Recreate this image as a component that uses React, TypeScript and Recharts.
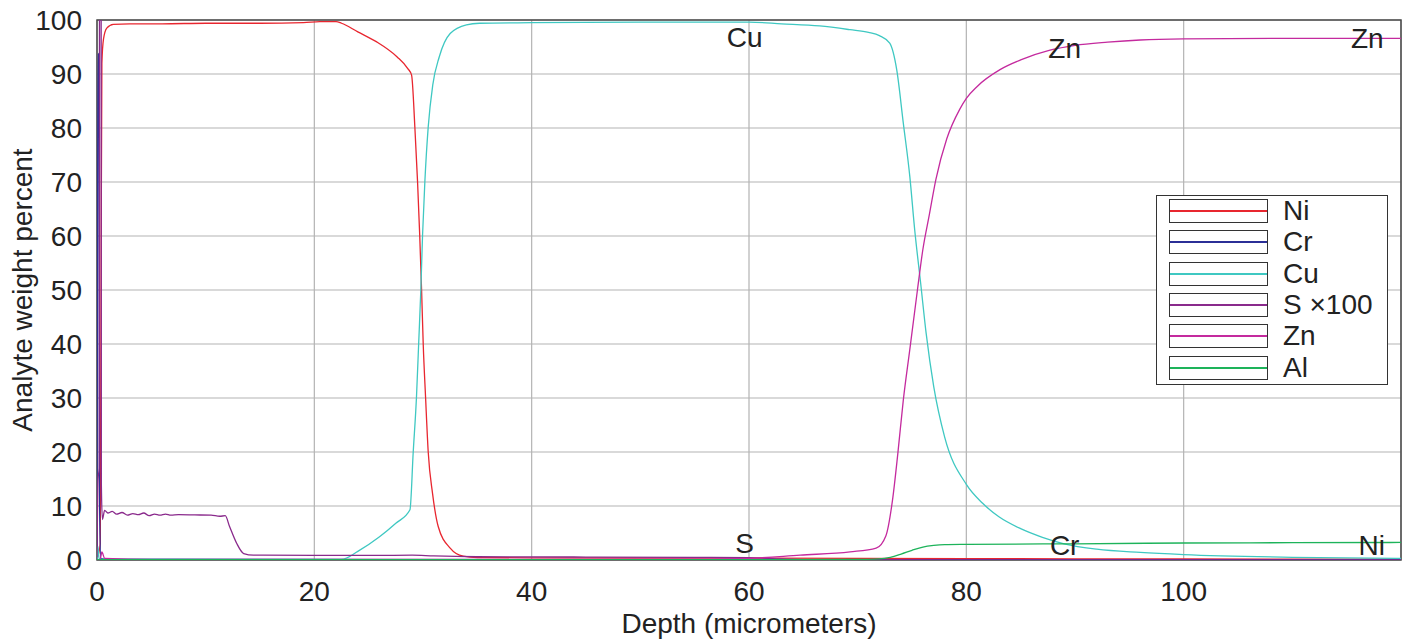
import {
  LineChart,
  Line,
  XAxis,
  YAxis,
  CartesianGrid,
  Legend,
  ReferenceArea,
  ReferenceDot,
} from "recharts";

// depth (micrometers) / weight percent
const niDepth = [0, 0.3, 0.38, 0.45, 0.6, 0.9, 1.5, 3, 6, 10, 15, 19, 20.5, 22, 22.5, 24, 25.7, 27.6, 28.6, 28.95, 29.25, 29.5, 29.7, 29.87, 30.02, 30.24, 30.48, 30.88, 31.4, 32.5, 33.7, 35, 40, 60, 80, 100, 120];
const niValue = [0.2, 3, 55, 92, 96.5, 98.5, 99.2, 99.3, 99.3, 99.4, 99.4, 99.5, 99.7, 99.7, 99.4, 97.8, 96, 93.2, 91, 89.8, 80.2, 70, 60, 50, 40, 30, 20, 12.3, 6.2, 2.2, 0.7, 0.45, 0.4, 0.35, 0.25, 0.2, 0.15];

const crDepth = [0, 0.05, 0.1, 0.18, 0.24, 0.35, 1, 120];
const crValue = [0, 60, 93.8, 93, 10, 0.3, 0.1, 0.05];

const cuDepth = [0, 0.08, 0.2, 22.5, 24, 26, 27.5, 28.8, 29.1, 29.4, 29.6, 29.8, 29.96, 30.17, 30.48, 30.9, 31.5, 32.5, 34, 35.2, 40, 50, 60, 63, 66.5, 69.3, 71, 72, 72.95, 73.6, 74.2, 74.8, 75.25, 75.8, 76.3, 77, 78, 80, 81.5, 83, 85, 87, 89, 92, 96, 100, 110, 120];
const cuValue = [0, 2.5, 0.2, 0.1, 1.6, 4.3, 6.8, 9.3, 20, 30.2, 40, 50, 60.2, 70, 80.2, 88, 93.2, 97.5, 99.1, 99.4, 99.5, 99.6, 99.6, 99.3, 98.9, 98.2, 97.7, 97.1, 95.7, 90.7, 80.9, 71, 61.1, 51.2, 42, 32.1, 22.8, 14, 10.5, 8, 5.8, 4.2, 3.0, 2.0, 1.4, 1.0, 0.5, 0.3];

const sDepth = [0, 0.1, 0.2, 0.28, 0.34, 0.4, 0.5, 0.7, 1.0, 1.4, 1.8, 2.3, 2.8, 3.3, 3.8, 4.3, 4.8, 5.3, 5.8, 6.3, 6.8, 7.5, 9, 10.5, 11.3, 11.8, 12.2, 12.85, 13.5, 14.4, 20, 26, 29, 31, 35, 45, 55, 60, 63, 66, 80, 120];
const sValue = [0.5, 15, 17, 300, 300, 14, 7.5, 9.2, 8.7, 9.0, 8.5, 8.8, 8.3, 8.6, 8.4, 8.7, 8.2, 8.5, 8.3, 8.5, 8.3, 8.4, 8.35, 8.3, 8.1, 8.2, 6.2, 3.1, 1.2, 0.9, 0.85, 0.85, 0.9, 0.75, 0.6, 0.55, 0.5, 0.45, 0.2, 0.05, 0.02, 0];

const znDepth = [0, 0.3, 0.45, 0.7, 5, 30, 55, 60, 64.7, 69.3, 71.7, 72.6, 73.2, 73.7, 74.2, 74.8, 75.5, 76.0, 76.6, 77.2, 78.2, 79.4, 80, 81, 83.1, 85, 87.7, 90, 93, 96, 100, 110, 120];
const znValue = [0, 0.2, 1.5, 0.3, 0.1, 0.1, 0.15, 0.3, 0.9, 1.5, 2.2, 4.5, 11, 19.8, 29.6, 39, 50, 57.5, 64, 70.5, 78, 83.5, 85.5, 87.7, 90.8, 92.6, 94.4, 95.3, 95.9, 96.3, 96.5, 96.6, 96.6];

const alDepth = [0, 60, 70, 72, 73, 74, 75, 76, 77, 78, 80, 90, 100, 110, 120];
const alValue = [0.05, 0.05, 0.1, 0.2, 0.5, 1.1, 1.8, 2.4, 2.7, 2.85, 2.9, 3.0, 3.15, 3.2, 3.25];

const xTicks = [0, 20, 40, 60, 80, 100];
const yTicks = [0, 10, 20, 30, 40, 50, 60, 70, 80, 90, 100];

// text tags written next to the curves
const tagText = ["Cu", "Zn", "Zn", "S", "Cr", "Ni"];
const tagDepth = [59.6, 89.05, 116.9, 59.6, 89.05, 117.3];
const tagValue = [96.9, 94.8, 96.7, 3.1, 2.8, 2.8];

const toPoints = (depth: number[], value: number[]) =>
  depth.map((d, i) => ({ depth: d, value: value[i] }));

const series = [
  { name: "Ni", color: "#e8262f", data: toPoints(niDepth, niValue) },
  { name: "Cr", color: "#2b2f96", data: toPoints(crDepth, crValue) },
  { name: "Cu", color: "#3fc8c2", data: toPoints(cuDepth, cuValue) },
  { name: "S \u00d7100", color: "#8a2a8c", data: toPoints(sDepth, sValue) },
  { name: "Zn", color: "#c42a9e", data: toPoints(znDepth, znValue) },
  { name: "Al", color: "#1db35a", data: toPoints(alDepth, alValue) },
];

const FONT = '"Liberation Sans", Arial, Helvetica, sans-serif';

const BoxLegend = () => (
  <div
    style={{
      position: "relative",
      width: 232,
      height: 190,
      boxSizing: "border-box",
      border: "1.5px solid #333",
      background: "#fff",
      fontFamily: FONT,
    }}
  >
    {series.map((s, i) => (
      <div
        key={s.name}
        style={{ position: "absolute", left: 12, top: 3 + i * 31.3, height: 24, width: 215 }}
      >
        <div
          style={{
            position: "absolute",
            left: 0,
            top: 0,
            width: 99,
            height: 24,
            boxSizing: "border-box",
            border: "1.5px solid #333",
          }}
        >
          <div
            style={{
              position: "absolute",
              left: 0,
              right: 0,
              top: 10,
              height: 2,
              background: s.color,
            }}
          />
        </div>
        <div
          style={{
            position: "absolute",
            left: 114,
            top: -2,
            fontSize: 28,
            lineHeight: "28px",
            color: "#222",
            whiteSpace: "nowrap",
          }}
        >
          {s.name}
        </div>
      </div>
    ))}
  </div>
);

export default function App() {
  return (
    <div style={{ position: "absolute", left: 0, top: 0, width: 1407, height: 640, background: "#fff" }}>
      <LineChart
        width={1407}
        height={640}
        margin={{ top: 20, right: 6, bottom: 0, left: 0 }}
        style={{ fontFamily: FONT }}
      >
        <CartesianGrid stroke="#b3b3b3" strokeWidth={1.2} />
        <XAxis
          dataKey="depth"
          type="number"
          domain={[0, 120]}
          ticks={xTicks}
          allowDataOverflow
          height={80}
          axisLine={false}
          tickLine={false}
          tickSize={19}
          tickMargin={2}
          tick={{ fill: "#222", fontSize: 28 }}
          label={{
            value: "Depth (micrometers)",
            position: "insideBottom",
            offset: 7,
            style: { fill: "#222", fontSize: 28 },
          }}
        />
        <YAxis
          type="number"
          domain={[0, 100]}
          ticks={yTicks}
          allowDataOverflow
          width={97}
          axisLine={false}
          tickLine={false}
          tickSize={13}
          tickMargin={2}
          tick={{ fill: "#222", fontSize: 28 }}
          label={{
            value: "Analyte weight percent",
            angle: -90,
            position: "insideLeft",
            offset: 22,
            style: { fill: "#222", fontSize: 28, textAnchor: "middle" },
          }}
        />
        <ReferenceArea
          x1={0}
          x2={120}
          y1={0}
          y2={100}
          fill="none"
          stroke="#4a4a4a"
          strokeWidth={1.5}
          ifOverflow="visible"
        />
        {series.map((s) => (
          <Line
            key={s.name}
            data={s.data}
            dataKey="value"
            name={s.name}
            type="monotone"
            stroke={s.color}
            strokeWidth={1.3}
            dot={false}
            activeDot={false}
            isAnimationActive={false}
          />
        ))}
        {tagText.map((t, i) => (
          <ReferenceDot
            key={t + i}
            x={tagDepth[i]}
            y={tagValue[i]}
            r={0}
            fill="none"
            stroke="none"
            label={{ value: t, position: "center", fill: "#222", fontSize: 28 }}
          />
        ))}
        <Legend
          content={<BoxLegend />}
          layout="horizontal"
          align="center"
          verticalAlign="middle"
          wrapperStyle={{ left: 1156, top: 195, width: 232, height: 190 }}
        />
      </LineChart>
    </div>
  );
}
